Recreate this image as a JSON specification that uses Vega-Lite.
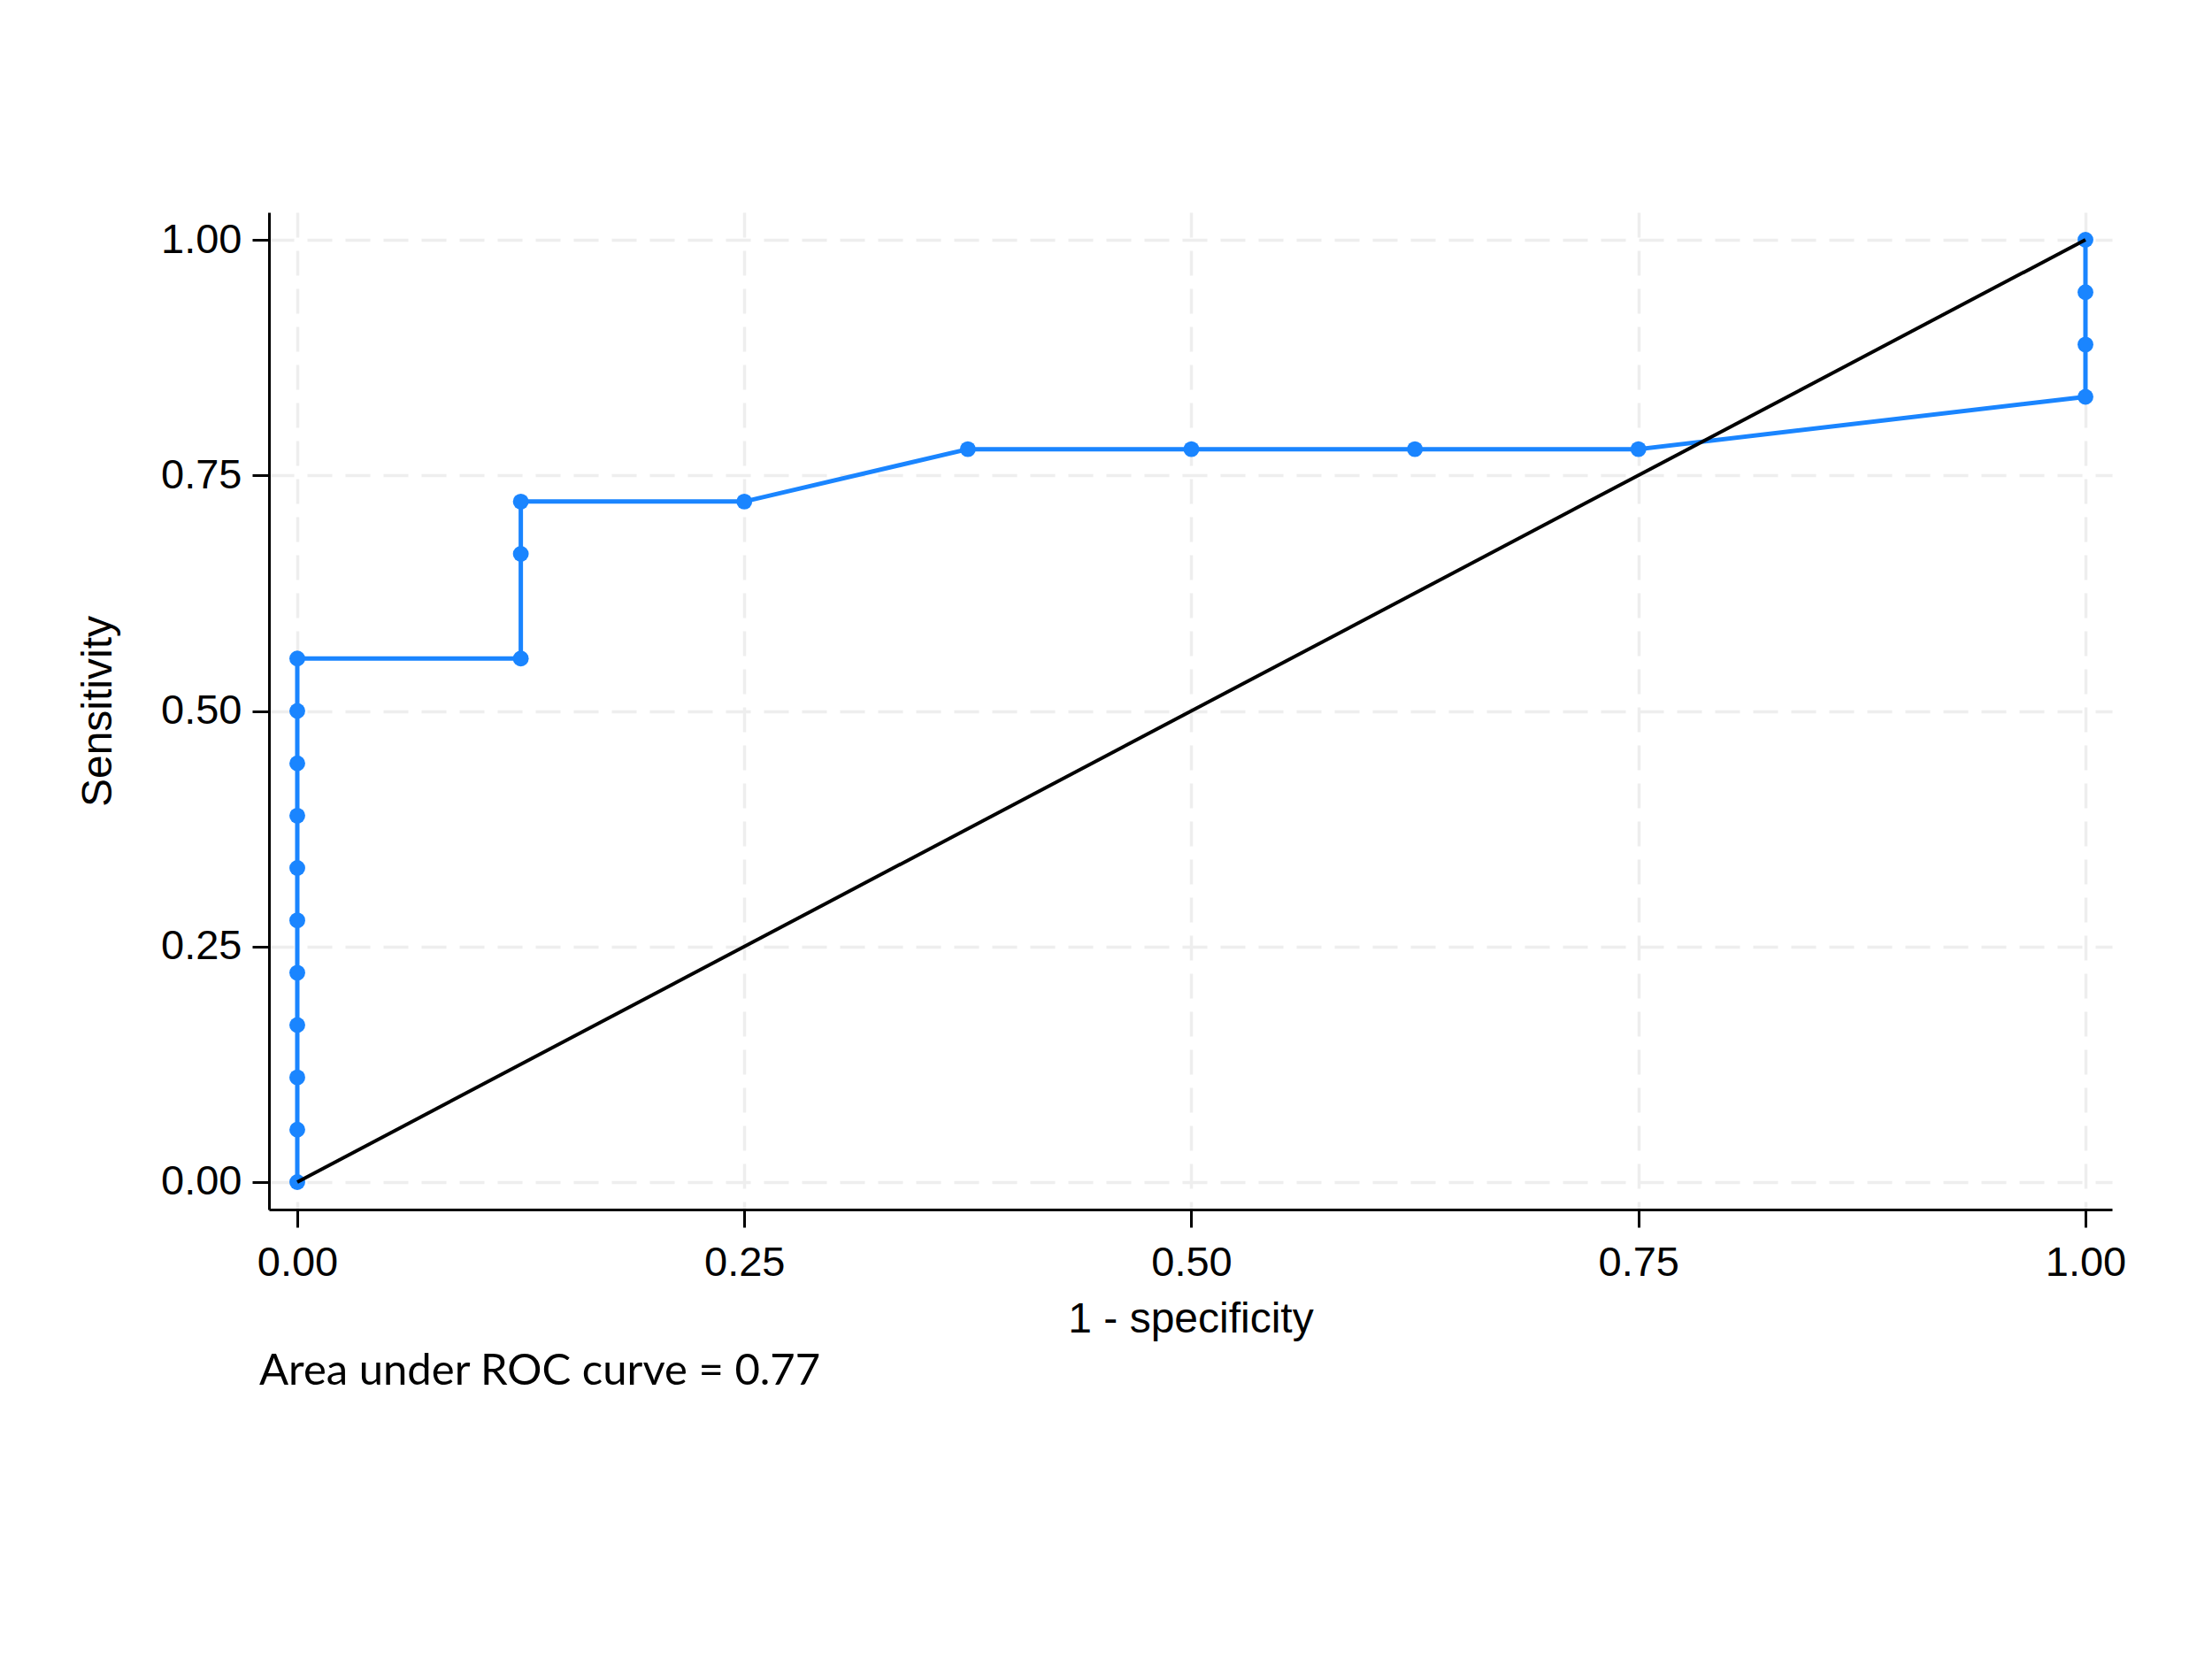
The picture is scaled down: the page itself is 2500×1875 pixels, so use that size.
{
  "$schema": "https://vega.github.io/schema/vega-lite/v6.json",
  "autosize": "none",
  "width": 2083,
  "height": 1127,
  "padding": {"left": 304, "top": 240, "right": 113, "bottom": 508},
  "background": "white",
  "config": {
    "view": {"stroke": null},
    "font": "Liberation Sans"
  },
  "title": {
    "text": "Area under ROC curve = 0.77",
    "orient": "bottom",
    "anchor": "start",
    "frame": "group",
    "font": "Lato",
    "fontSize": 49,
    "fontWeight": "normal",
    "color": "black",
    "dx": -11,
    "offset": 11
  },
  "datasets": {
    "roc": [
      {"i": 1, "fpr": 0, "sens": 0},
      {"i": 2, "fpr": 0, "sens": 0.0556},
      {"i": 3, "fpr": 0, "sens": 0.1111},
      {"i": 4, "fpr": 0, "sens": 0.1667},
      {"i": 5, "fpr": 0, "sens": 0.2222},
      {"i": 6, "fpr": 0, "sens": 0.2778},
      {"i": 7, "fpr": 0, "sens": 0.3333},
      {"i": 8, "fpr": 0, "sens": 0.3889},
      {"i": 9, "fpr": 0, "sens": 0.4444},
      {"i": 10, "fpr": 0, "sens": 0.5},
      {"i": 11, "fpr": 0, "sens": 0.5556},
      {"i": 12, "fpr": 0.125, "sens": 0.5556},
      {"i": 13, "fpr": 0.125, "sens": 0.6667},
      {"i": 14, "fpr": 0.125, "sens": 0.7222},
      {"i": 15, "fpr": 0.25, "sens": 0.7222},
      {"i": 16, "fpr": 0.375, "sens": 0.7778},
      {"i": 17, "fpr": 0.5, "sens": 0.7778},
      {"i": 18, "fpr": 0.625, "sens": 0.7778},
      {"i": 19, "fpr": 0.75, "sens": 0.7778},
      {"i": 20, "fpr": 1, "sens": 0.8333},
      {"i": 21, "fpr": 1, "sens": 0.8889},
      {"i": 22, "fpr": 1, "sens": 0.9444},
      {"i": 23, "fpr": 1, "sens": 1}
    ],
    "ref": [
      {"i": 1, "fpr": 0, "sens": 0},
      {"i": 2, "fpr": 1, "sens": 1}
    ]
  },
  "encoding": {
    "x": {
      "field": "fpr",
      "type": "quantitative",
      "scale": {"domain": [-0.01583, 1.01485], "nice": false, "zero": false},
      "axis": {
        "title": "1 - specificity",
        "values": [0, 0.25, 0.5, 0.75, 1],
        "format": ".2f",
        "labelFontSize": 47,
        "labelColor": "black",
        "labelPadding": 17,
        "labelFlush": false,
        "titleFontSize": 48,
        "titleFontWeight": "normal",
        "titleColor": "black",
        "titlePadding": 17,
        "domainColor": "black",
        "domainWidth": 3,
        "tickColor": "black",
        "tickWidth": 3,
        "tickSize": 20,
        "grid": true,
        "gridColor": "#EEEEEE",
        "gridWidth": 3.5,
        "gridDash": [28, 15]
      }
    },
    "y": {
      "field": "sens",
      "type": "quantitative",
      "scale": {"domain": [-0.02911, 1.02911], "nice": false, "zero": false},
      "axis": {
        "title": "Sensitivity",
        "values": [0, 0.25, 0.5, 0.75, 1],
        "format": ".2f",
        "labelFontSize": 47,
        "labelColor": "black",
        "labelPadding": 12,
        "labelFlush": false,
        "titleFontSize": 48,
        "titleFontWeight": "normal",
        "titleColor": "black",
        "titlePadding": 46,
        "domainColor": "black",
        "domainWidth": 3,
        "tickColor": "black",
        "tickWidth": 3,
        "tickSize": 19,
        "grid": true,
        "gridColor": "#EEEEEE",
        "gridWidth": 3.5,
        "gridDash": [28, 15]
      }
    },
    "order": {"field": "i", "type": "quantitative"}
  },
  "layer": [
    {
      "data": {"name": "roc"},
      "mark": {"type": "line", "color": "#1a85ff", "strokeWidth": 5}
    },
    {
      "data": {"name": "roc"},
      "mark": {"type": "point", "filled": true, "color": "#1a85ff", "opacity": 1, "size": 320}
    },
    {
      "data": {"name": "ref"},
      "mark": {"type": "line", "color": "black", "strokeWidth": 4}
    }
  ]
}
